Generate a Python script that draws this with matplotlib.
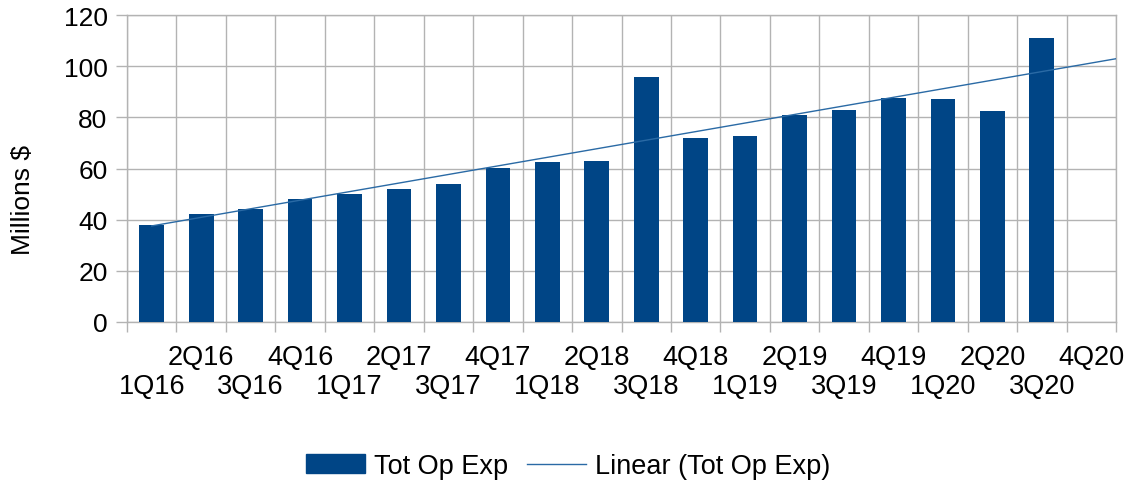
import matplotlib
matplotlib.use("Agg")
import matplotlib.pyplot as plt
import numpy as np
from matplotlib.lines import Line2D
from matplotlib.patches import Patch

plt.rcParams['font.family'] = ['Liberation Sans', 'DejaVu Sans']

categories = ["1Q16", "2Q16", "3Q16", "4Q16", "1Q17", "2Q17", "3Q17", "4Q17",
              "1Q18", "2Q18", "3Q18", "4Q18", "1Q19", "2Q19", "3Q19", "4Q19",
              "1Q20", "2Q20", "3Q20", "4Q20"]
tot_op_exp = [38.0, 42.2, 44.2, 48.1, 50.0, 52.0, 54.0, 60.2,
              62.5, 62.9, 95.8, 71.9, 72.7, 80.9, 82.9, 87.6,
              87.2, 82.5, 111.0]
y_ticks = [0, 20, 40, 60, 80, 100, 120]

bar_color = "#004586"
line_color = "#2a6aa5"
grid_color = "#b3b3b3"

W, H = 1129, 485
fig = plt.figure(figsize=(W / 100, H / 100), dpi=100)
left, right, top, bottom = 127, 1116, 16, 323
ax = fig.add_axes([left / W, 1 - bottom / H, (right - left) / W, (bottom - top) / H])

n = len(categories)
xs = np.arange(len(tot_op_exp))
ax.bar(xs, tot_op_exp, width=0.5, color=bar_color, zorder=3)

# linear trend line fitted to the data, extended to the right edge
slope, intercept = np.polyfit(xs, tot_op_exp, 1)
xt = np.array([0, n - 0.5])
ax.plot(xt, slope * xt + intercept, color=line_color, lw=1.0, zorder=4)

ax.set_xlim(-0.5, n - 0.5)
ax.set_ylim(0, 120)
ax.set_yticks(y_ticks)
ax.set_xticks(np.arange(n + 1) - 0.5, minor=True)
ax.set_xticks([])
ax.grid(True, axis='y', color=grid_color, lw=1.0, zorder=0)
ax.grid(True, axis='x', which='minor', color=grid_color, lw=1.0, zorder=0)
ax.tick_params(axis='y', length=8, width=1.0, color=grid_color, labelsize=19, pad=6, direction='out')
ax.tick_params(axis='x', which='minor', length=7.5, width=1.0, color=grid_color, direction='out')
for s in ax.spines.values():
    s.set_color(grid_color)
    s.set_linewidth(1.0)

trans = ax.get_xaxis_transform()
for i, lab in enumerate(categories):
    yy = -0.2085 if i % 2 == 0 else -0.114
    ax.text(i, yy, lab, transform=trans, ha='center', va='center', fontsize=19.5)

fig.text(23 / W, 1 - 200 / H, "Millions $", rotation=90, ha='center', va='center', fontsize=19)

handles = [Patch(color=bar_color), Line2D([0], [0], color=line_color, lw=1.0)]
fig.legend(handles, ["Tot Op Exp", "Linear (Tot Op Exp)"], loc='center',
           bbox_to_anchor=(568 / W, 1 - 467 / H), ncol=2, frameon=False, fontsize=19.5,
           handlelength=2.2, handletextpad=0.33, columnspacing=0.67,
           borderpad=0, borderaxespad=0)

fig.savefig("out.png", dpi=100)
